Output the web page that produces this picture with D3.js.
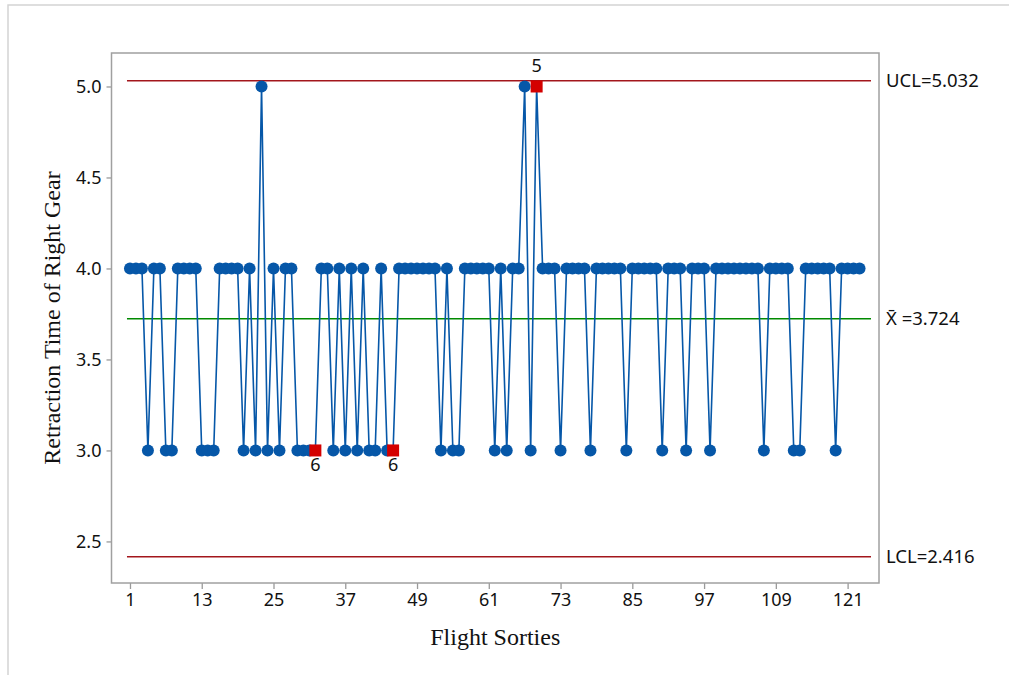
<!DOCTYPE html>
<html>
<head>
<meta charset="utf-8">
<script src="https://cdn.jsdelivr.net/npm/d3@7"></script>
<style>
  body { margin: 0; background: #fff; }
  svg { display: block; }
</style>
</head>
<body>
<svg id="chart"></svg>
<script>
// retraction times per sortie
const retraction = [
  4, 4, 4, 3, 4, 4, 3, 3, 4, 4,
  4, 4, 3, 3, 3, 4, 4, 4, 4, 3,
  4, 3, 5, 3, 4, 3, 4, 4, 3, 3,
  3, 3, 4, 4, 3, 4, 3, 4, 3, 4,
  3, 3, 4, 3, 3, 4, 4, 4, 4, 4,
  4, 4, 3, 4, 3, 3, 4, 4, 4, 4,
  4, 3, 4, 3, 4, 4, 5, 3, 5, 4,
  4, 4, 3, 4, 4, 4, 4, 3, 4, 4,
  4, 4, 4, 3, 4, 4, 4, 4, 4, 3,
  4, 4, 4, 3, 4, 4, 4, 3, 4, 4,
  4, 4, 4, 4, 4, 4, 3, 4, 4, 4,
  4, 3, 3, 4, 4, 4, 4, 4, 3, 4,
  4, 4, 4
];
// flagged points (test number shown next to them)
const flagged = [
  { sortie: 32, test: "6", pos: "below" },
  { sortie: 45, test: "6", pos: "below" },
  { sortie: 69, test: "5", pos: "above" }
];
const xTicks = [1, 13, 25, 37, 49, 61, 73, 85, 97, 109, 121];
const yTicks = [2.5, 3.0, 3.5, 4.0, 4.5, 5.0];
const limits = [
  { name: "UCL", label: "UCL=5.032", value: 5.032, color: "#a3161c" },
  { name: "CL", label: "X\u0304 =3.724", value: 3.724, color: "#008a00" },
  { name: "LCL", label: "LCL=2.416", value: 2.416, color: "#a3161c" }
];

const svgWidth = 1009, svgHeight = 675;
const frame = { left: 111.5, right: 879, top: 53, bottom: 583 };
const tickFont = "'Noto Sans', 'Open Sans', sans-serif";
const titleFont = "'Liberation Serif', 'Times New Roman', serif";

const svg = d3.select("#chart")
  .attr("width", svgWidth)
  .attr("height", svgHeight);

// outer border
svg.append("rect")
  .attr("x", 8).attr("y", 5)
  .attr("width", svgWidth).attr("height", svgHeight)
  .attr("fill", "none")
  .attr("stroke", "#d4d4d4")
  .attr("stroke-width", 1.5);

const data = retraction.map((v, i) => ({ sortie: i + 1, value: v }));

const x = d3.scaleLinear()
  .domain([-2.09, 126.25])
  .range([frame.left, frame.right]);
const y = d3.scaleLinear()
  .domain([2.2716, 5.184])
  .range([frame.bottom, frame.top]);

// axes
const xAxis = d3.axisBottom(x).tickValues(xTicks).tickSize(6).tickPadding(4).tickFormat(d3.format("d"));
const yAxis = d3.axisLeft(y).tickValues(yTicks).tickSize(5).tickPadding(5).tickFormat(d3.format(".1f"));

const gx = svg.append("g")
  .attr("transform", "translate(0," + frame.bottom + ")")
  .call(xAxis);
const gy = svg.append("g")
  .attr("transform", "translate(" + frame.left + ",0)")
  .call(yAxis);
[gx, gy].forEach(g => {
  g.select(".domain").remove();
  g.selectAll(".tick line").attr("stroke", "#9a9a9a").attr("stroke-width", 1.3);
  g.selectAll(".tick text")
    .attr("fill", "#111")
    .style("font-family", tickFont)
    .style("font-size", "18px");
});

// plot frame
svg.append("rect")
  .attr("x", frame.left).attr("y", frame.top)
  .attr("width", frame.right - frame.left)
  .attr("height", frame.bottom - frame.top)
  .attr("fill", "none")
  .attr("stroke", "#a0a0a0")
  .attr("stroke-width", 1.5);

// control limit lines + labels
svg.selectAll(".limit")
  .data(limits)
  .enter()
  .append("line")
  .attr("class", "limit")
  .attr("x1", x(1) - 3)
  .attr("x2", frame.right - 8)
  .attr("y1", d => y(d.value))
  .attr("y2", d => y(d.value))
  .attr("stroke", d => d.color)
  .attr("stroke-width", 1.5);

svg.selectAll(".limit-label")
  .data(limits)
  .enter()
  .append("text")
  .attr("class", "limit-label")
  .attr("x", frame.right + 7)
  .attr("y", d => y(d.value))
  .attr("dy", "0.35em")
  .style("font-family", tickFont)
  .style("font-size", "18.5px")
  .attr("fill", "#111")
  .text(d => d.label);

// data line
const line = d3.line()
  .x(d => x(d.sortie))
  .y(d => y(d.value));

svg.append("path")
  .datum(data)
  .attr("fill", "none")
  .attr("stroke", "#0657a8")
  .attr("stroke-width", 1.6)
  .attr("stroke-linejoin", "round")
  .attr("d", line);

const flagSet = new Set(flagged.map(f => f.sortie));

svg.selectAll(".pt")
  .data(data.filter(d => !flagSet.has(d.sortie)))
  .enter()
  .append("circle")
  .attr("class", "pt")
  .attr("cx", d => x(d.sortie))
  .attr("cy", d => y(d.value))
  .attr("r", 6)
  .attr("fill", "#0657a8");

// flagged points as red squares
const flagData = flagged.map(f => Object.assign({}, f, { value: retraction[f.sortie - 1] }));
svg.selectAll(".flag")
  .data(flagData)
  .enter()
  .append("rect")
  .attr("class", "flag")
  .attr("x", d => x(d.sortie) - 6)
  .attr("y", d => y(d.value) - 6)
  .attr("width", 12)
  .attr("height", 12)
  .attr("fill", "#d40000");

svg.selectAll(".flag-label")
  .data(flagData)
  .enter()
  .append("text")
  .attr("class", "flag-label")
  .attr("x", d => x(d.sortie))
  .attr("y", d => y(d.value) + (d.pos === "below" ? 21 : -14.5))
  .attr("text-anchor", "middle")
  .style("font-family", tickFont)
  .style("font-size", "18px")
  .attr("fill", "#111")
  .text(d => d.test);

// axis titles
svg.append("text")
  .attr("x", (frame.left + frame.right) / 2)
  .attr("y", 645)
  .attr("text-anchor", "middle")
  .style("font-family", titleFont)
  .style("font-size", "24px")
  .attr("fill", "#111")
  .text("Flight Sorties");

svg.append("text")
  .attr("transform", "translate(60," + (frame.top + frame.bottom) / 2 + ") rotate(-90)")
  .attr("text-anchor", "middle")
  .style("font-family", titleFont)
  .style("font-size", "24px")
  .attr("fill", "#111")
  .text("Retraction Time of Right Gear");
</script>
</body>
</html>
